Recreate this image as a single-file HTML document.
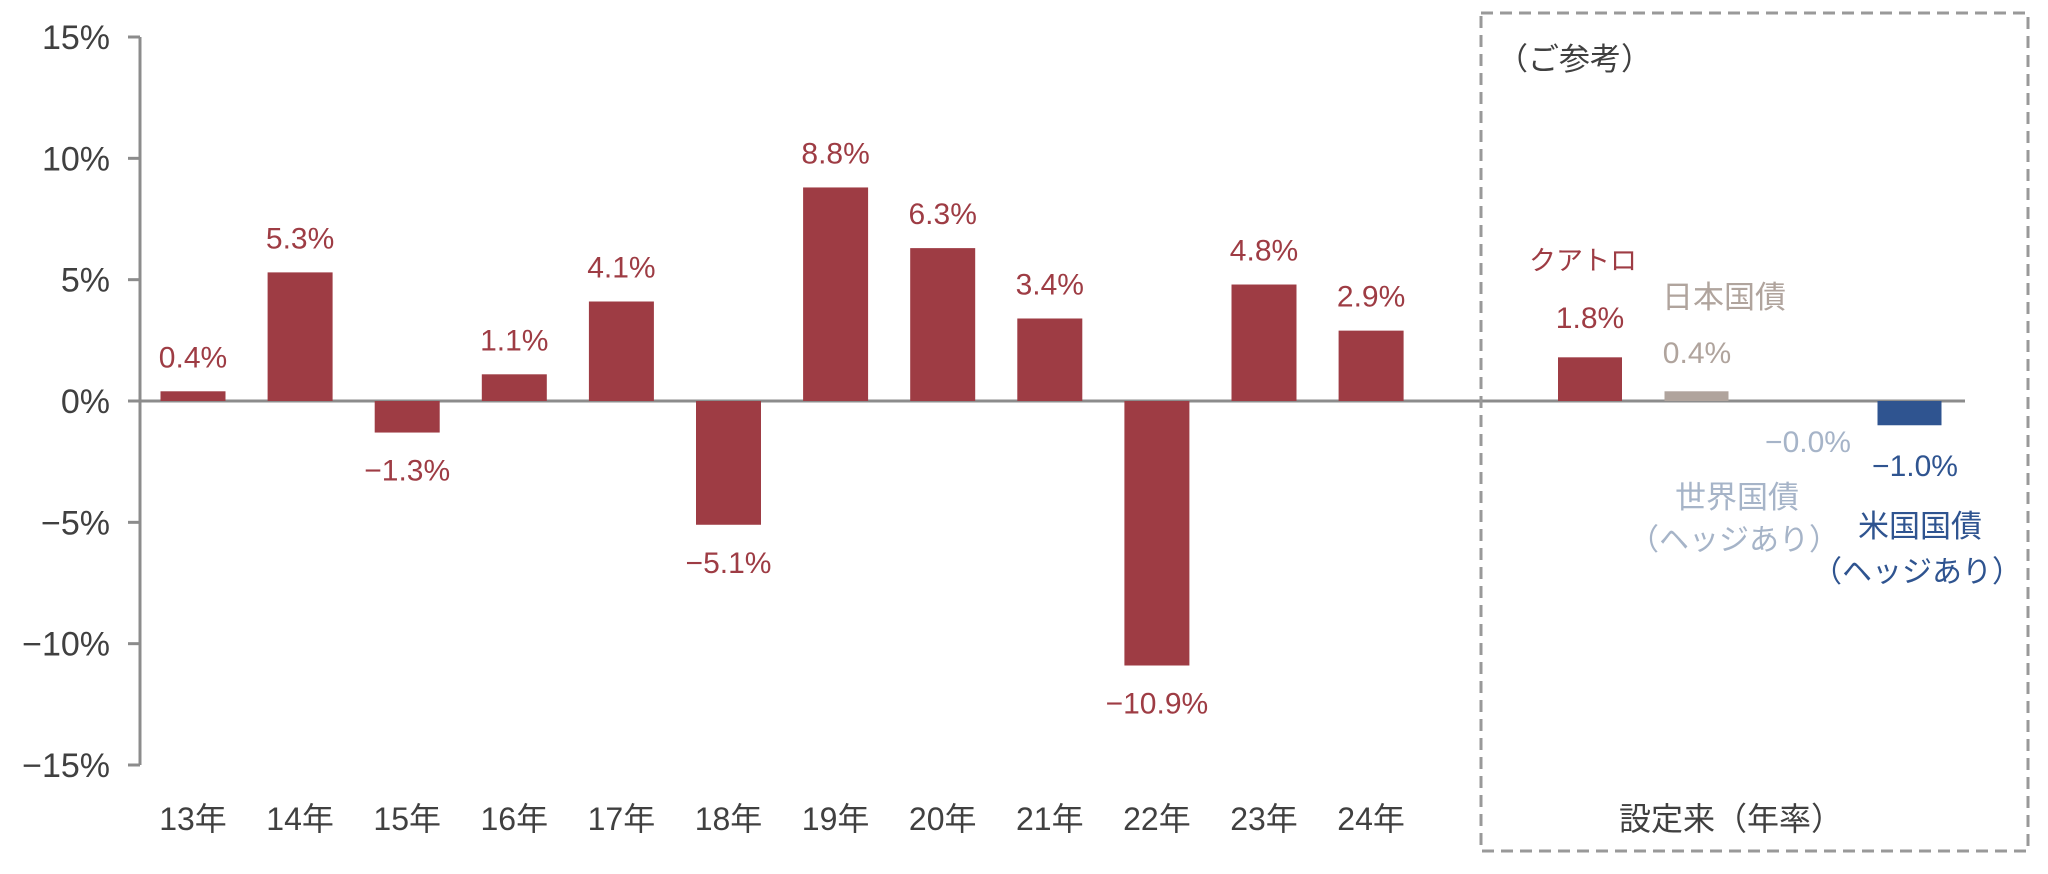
<!DOCTYPE html>
<html><head><meta charset="utf-8"><style>
html,body{margin:0;padding:0;background:#fff;}
svg{display:block;font-family:"Liberation Sans","Noto Sans CJK JP",sans-serif;}
</style></head><body>
<svg id="chart" width="2048" height="874" viewBox="0 0 2048 874">
<g id="axis"></g>
<g id="bars"></g>
<rect x="1481" y="13" width="547" height="838" fill="none" stroke="#999" stroke-width="3" stroke-dasharray="12,7"/>
<text x="1497" y="70" font-size="31" fill="#404040">（ご参考）</text>
<text x="1731" y="830" font-size="32" fill="#404040" text-anchor="middle">設定来（年率）</text>
</svg>
<script>
const categories=["13年","14年","15年","16年","17年","18年","19年","20年","21年","22年","23年","24年"];
const values=[0.4,5.3,-1.3,1.1,4.1,-5.1,8.8,6.3,3.4,-10.9,4.8,2.9];
const refNames=["クアトロ","日本国債","世界国債","米国国債"];
const refValues=[1.8,0.4,-0.0,-1.0];
const tickValues=[15,10,5,0,-5,-10,-15];
const tickLabels=["15%","10%","5%","0%","−5%","−10%","−15%"];
const NS="http://www.w3.org/2000/svg";
function y(v){return 401-v*(364/15);}
function xc(i){return 193+i*107.1;}
function rx(i){return 1590+i*106.5;}
function mk(tag,attrs,parent,txt){const e=document.createElementNS(NS,tag);for(const k in attrs)e.setAttribute(k,attrs[k]);if(txt!==undefined)e.textContent=txt;parent.appendChild(e);return e;}
const axis=document.getElementById('axis'),bars=document.getElementById('bars');
const red="#9e3c44";
const ax=mk('line',{x1:140,y1:y(15),x2:140,y2:y(-15),stroke:"#8c8c8c","stroke-width":3},axis);


tickValues.forEach((t,i)=>{
 const l=mk('line',{x1:128,y1:y(t),x2:140,y2:y(t),stroke:"#8c8c8c","stroke-width":3},axis);
 
 
 const tx=mk('text',{x:110,y:y(t)+12,"font-size":34,fill:"#404040","text-anchor":"end"},axis,tickLabels[i]);
 
 
});
const zl=mk('line',{x1:140,y1:y(0),x2:1965,y2:y(0),stroke:"#8c8c8c","stroke-width":3},axis);


const bw=65;
values.forEach((v,i)=>{
 const top=Math.min(y(v),y(0)),h=Math.abs(y(v)-y(0));
 const r=mk('rect',{x:xc(i)-bw/2,y:top,width:bw,height:h,fill:red},bars);
 
 
 const ly=v>=0?y(v)-24:y(v)+48;
 const t=mk('text',{x:xc(i),y:ly,"font-size":30,fill:red,"text-anchor":"middle"},bars,(v<0?"−":"")+Math.abs(v).toFixed(1)+"%");
 
 
 const c=mk('text',{x:xc(i),y:830,"font-size":32,fill:"#404040","text-anchor":"middle"},bars,categories[i]);
 
 
});
const refColors=[red,"#b0a49d","#a6b4c8","#2f5490"];
refValues.forEach((v,i)=>{
 const top=Math.min(y(v),y(0)),h=Math.max(Math.abs(y(v)-y(0)),0);
 const r=mk('rect',{x:rx(i)-32,y:top,width:64,height:h,fill:refColors[i]},bars);
 
 
});
const lab=[
 [refNames[0],1583,270,red,27],
 [(refValues[0]<0?"−":"")+Math.abs(refValues[0]).toFixed(1)+"%",1590,328,red,30],
 [refNames[1],1724,308,"#b0a49d",31],
 [(refValues[1]<0?"−":"")+Math.abs(refValues[1]).toFixed(1)+"%",1697,363,"#b0a49d",30],
 ["−"+Math.abs(refValues[2]).toFixed(1)+"%",1808,452,"#a6b4c8",30],
 [refNames[2],1737,508,"#a6b4c8",31],
 ["（ヘッジあり）",1734,550,"#a6b4c8",30],
 [(refValues[3]<0?"−":"")+Math.abs(refValues[3]).toFixed(1)+"%",1915,476,"#2f5490",30],
 [refNames[3],1920,537,"#2f5490",31],
 ["（ヘッジあり）",1917,582,"#2f5490",30]
];
lab.forEach(a=>{
 const t=mk('text',{x:a[1],y:a[2],"font-size":a[4],fill:a[3],"text-anchor":"middle"},bars,a[0]);
 
 
});
</script>
</body></html>
